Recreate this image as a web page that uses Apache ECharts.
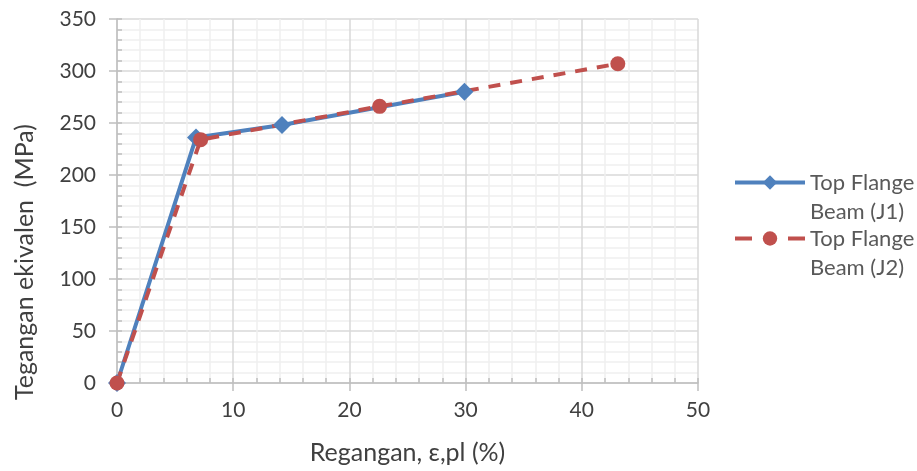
<!DOCTYPE html>
<html><head><meta charset="utf-8">
<script src="https://cdn.jsdelivr.net/npm/echarts@6/dist/echarts.min.js"></script>
<style>html,body{margin:0;padding:0;background:#fff}#c{width:917px;height:471px}</style>
</head><body><div id="c"></div>
<script>
const j1X = [0, 6.8, 14.2, 29.9];
const j1Y = [0, 236, 248, 280];
const j2X = [0, 7.2, 22.6, 43.1];
const j2Y = [0, 234, 266, 307];
const seriesNames = ['Top Flange Beam (J1)', 'Top Flange Beam (J2)'];
const legendLabels = [' \nTop Flange\nBeam (J1)', ' \nTop Flange\nBeam (J2)'];
const xTitle = 'Regangan, ε,pl (%)';
const yTitle = 'Tegangan ekivalen  (MPa)';

const FONT = 'Lato, "Liberation Sans", sans-serif';
const TXT = '#404040';
const chart = echarts.init(document.getElementById('c'), null, {renderer: 'canvas'});
const zip = (a, b) => a.map((v, i) => [v, b[i]]);
chart.setOption({
  animation: false,
  grid: {left: 117, right: 219, top: 19, bottom: 88},
  legend: {
    orient: 'vertical', left: 733, top: 139, itemGap: -31, padding: 0,
    itemWidth: 70, itemHeight: 18,
    lineStyle: {width: 4},
    formatter: n => legendLabels[seriesNames.indexOf(n)],
    textStyle: {fontFamily: FONT, fontSize: 22, color: '#595959', lineHeight: 29},
    data: [{name: seriesNames[0]}, {name: seriesNames[1], lineStyle: {width: 4, type: [17, 36]}}]
  },
  xAxis: [{
    type: 'value', min: 0, max: 50, interval: 10,
    name: xTitle, nameLocation: 'middle', nameGap: 57,
    nameTextStyle: {fontFamily: FONT, fontSize: 25, color: TXT},
    axisLine: {show: true, lineStyle: {color: '#BFBFBF', width: 1.5}},
    axisTick: {show: true, length: 8, lineStyle: {color: '#BFBFBF', width: 1.5}},
    axisLabel: {fontFamily: FONT, fontSize: 21, color: TXT, margin: 17},
    splitLine: {show: true, lineStyle: {color: '#D9D9D9', width: 1.5}},
    minorTick: {show: false, splitNumber: 5},
    minorSplitLine: {show: true, lineStyle: {color: '#F0F0F0', width: 1.5}}
  }, {
    type: 'value', min: 0, max: 50, interval: 2, position: 'bottom',
    axisLine: {show: false}, axisLabel: {show: false}, splitLine: {show: false},
    axisTick: {show: true, inside: true, length: 5, lineStyle: {color: '#BFBFBF', width: 1.5}}
  }],
  yAxis: [{
    type: 'value', min: 0, max: 350, interval: 50,
    name: yTitle, nameLocation: 'middle', nameGap: 80, nameRotate: 90,
    nameTextStyle: {fontFamily: FONT, fontSize: 25, color: TXT, padding: [0, 122, 0, 0]},
    axisLine: {show: true, lineStyle: {color: '#BFBFBF', width: 1.5}},
    axisTick: {show: true, length: 8, lineStyle: {color: '#BFBFBF', width: 1.5}},
    axisLabel: {fontFamily: FONT, fontSize: 21, color: TXT, margin: 21},
    splitLine: {show: true, lineStyle: {color: '#D9D9D9', width: 1.5}},
    minorTick: {show: false, splitNumber: 5},
    minorSplitLine: {show: true, lineStyle: {color: '#F0F0F0', width: 1.5}}
  }, {
    type: 'value', min: 0, max: 350, interval: 10, position: 'left',
    axisLine: {show: false}, axisLabel: {show: false}, splitLine: {show: false},
    axisTick: {show: true, inside: true, length: 5, lineStyle: {color: '#BFBFBF', width: 1.5}}
  }],
  series: [{
    name: seriesNames[0], type: 'line', data: zip(j1X, j1Y),
    symbol: 'diamond', symbolSize: 18,
    itemStyle: {color: '#4F81BD'},
    lineStyle: {color: '#4F81BD', width: 4}
  }, {
    name: seriesNames[1], type: 'line', data: zip(j2X, j2Y),
    symbol: 'circle', symbolSize: 15,
    itemStyle: {color: '#C0504D'},
    lineStyle: {color: '#C0504D', width: 4, type: [12, 10]}
  }]
});
</script></body></html>
